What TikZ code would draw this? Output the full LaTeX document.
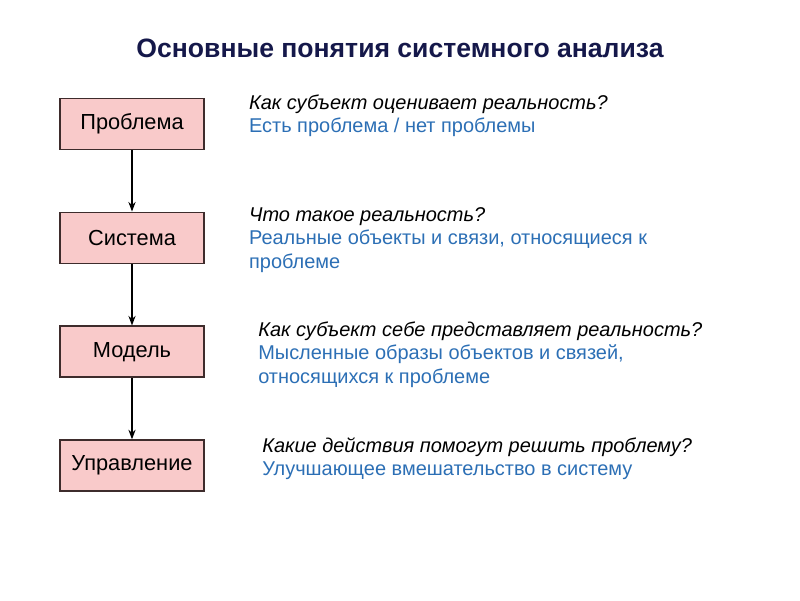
\documentclass[tikz,border=0pt]{standalone}
\usepackage{fontspec}
\setmainfont{Liberation Sans}
\usetikzlibrary{arrows.meta, positioning}

\definecolor{boxfill}{HTML}{F9CACA}
\definecolor{boxline}{HTML}{3E2C2C}
\definecolor{answer}{HTML}{2C6FB5}
\definecolor{heading}{HTML}{15184A}

\begin{document}
\begin{tikzpicture}[
    node distance=1.53cm,
    concept/.style={rectangle, draw=boxline, fill=boxfill, line width=1.2pt, minimum width=3.6cm, minimum height=1.275cm, font=\fontsize{15.5}{18}\selectfont},
    note/.style={anchor=north west, align=left, inner sep=0pt, font=\fontsize{14.2}{16.7}\selectfont},
    arrow/.style={-{Stealth[length=2.4mm, width=1.8mm]}, line width=0.9pt, draw=black}
]
    \useasboundingbox (0,0) rectangle (20,-15);
    \node[font=\bfseries\fontsize{18.9}{22}\selectfont, text=heading] (title) at (10,-1.22) {Основные понятия системного анализа};

    \node[concept] (problem) at (3.3,-3.1) {Проблема};
    \node[concept, below=of problem] (system) {Система};
    \node[concept, below=of system] (model) {Модель};
    \node[concept, below=of model] (control) {Управление};

    \draw[arrow] (problem) -- (system);
    \draw[arrow] (system) -- (model);
    \draw[arrow] (model) -- (control);

    \node[note] (q1) at (6.22,-2.36) {\textit{Как субъект оценивает реальность?}\\ \textcolor{answer}{Есть проблема / нет проблемы}};
    \node[note] (q2) at (6.22,-5.18) {\textit{Что такое реальность?}\\ \textcolor{answer}{Реальные объекты и связи, относящиеся к}\\ \textcolor{answer}{проблеме}};
    \node[note] (q3) at (6.45,-8.03) {\textit{Как субъект себе представляет реальность?}\\ \textcolor{answer}{Мысленные образы объектов и связей,}\\ \textcolor{answer}{относящихся к проблеме}};
    \node[note] (q4) at (6.55,-10.93) {\textit{Какие действия помогут решить проблему?}\\ \textcolor{answer}{Улучшающее вмешательство в систему}};
\end{tikzpicture}
\end{document}
